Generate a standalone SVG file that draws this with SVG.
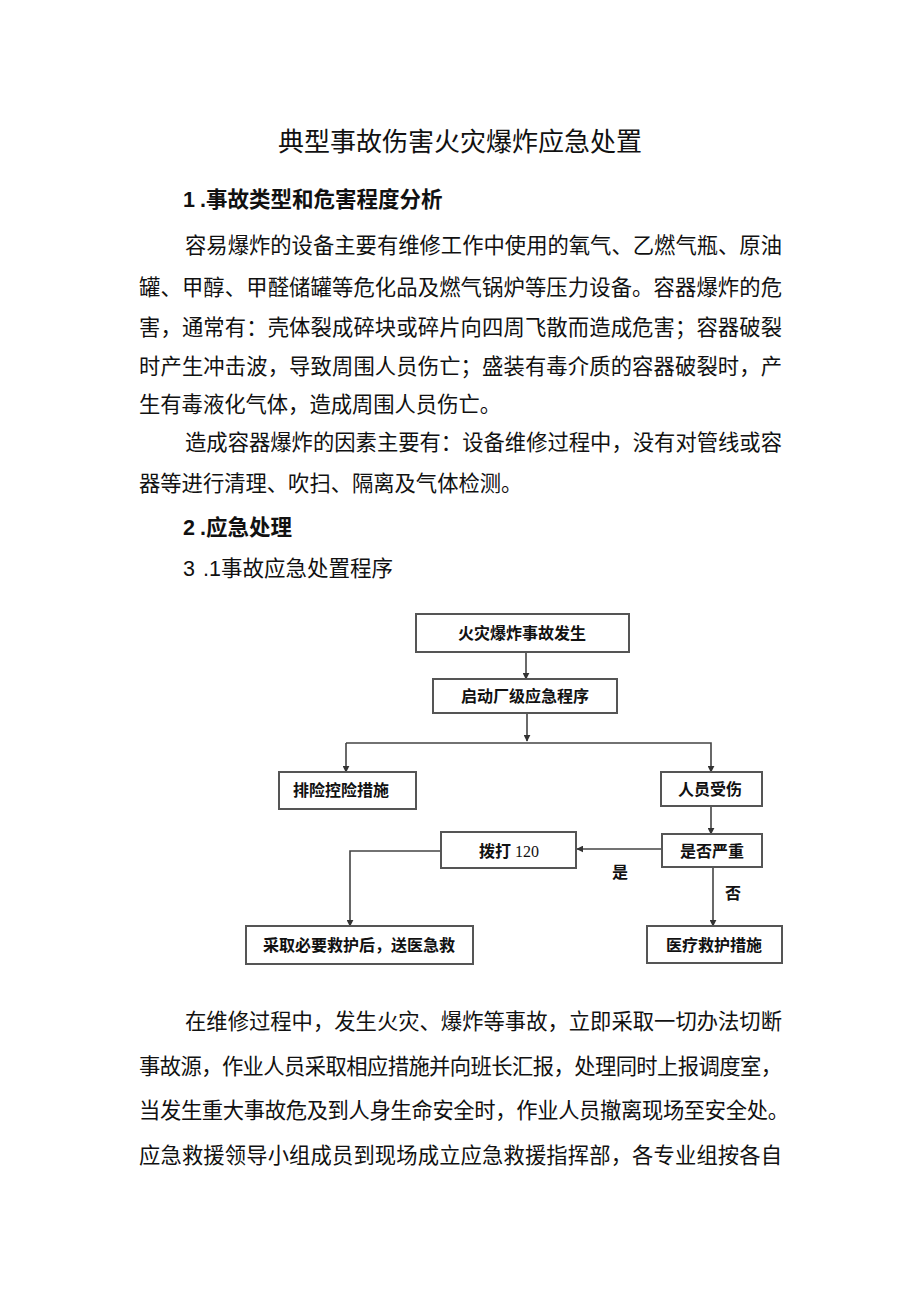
<svg xmlns="http://www.w3.org/2000/svg" width="920" height="1301" viewBox="0 0 920 1301">
<style>
.title{font-family:"Noto Sans CJK SC","Liberation Sans",sans-serif;font-size:26px;fill:#111;}
.h{font-family:"Liberation Sans","Noto Sans CJK SC",sans-serif;font-size:21.5px;fill:#111;}
.hb{font-weight:bold;}
.p{font-family:"Liberation Serif","Noto Sans CJK SC",serif;font-size:21.3px;fill:#111;}
.box{fill:#fff;stroke:#555;stroke-width:2;}
.bt{font-family:"Liberation Serif","Noto Sans CJK SC",sans-serif;font-size:16px;font-weight:bold;fill:#111;text-anchor:middle;}
.ln{fill:none;stroke:#444;stroke-width:1.6;}
</style>
<defs>
<marker id="ah" viewBox="0 0 10 10" refX="9" refY="5" markerWidth="7" markerHeight="7" markerUnits="userSpaceOnUse" orient="auto">
<path d="M0,0 L10,5 L0,10 z" fill="#333"/>
</marker>
</defs>
<rect width="920" height="1301" fill="#fff"/>

<g id="text">
<text class="title" x="460" y="151" text-anchor="middle">典型事故伤害火灾爆炸应急处置</text>
<text class="h hb" y="207"><tspan x="183">1</tspan><tspan x="200">.事故类型和危害程度分析</tspan></text>
<text class="p" x="185" y="253" textLength="597" lengthAdjust="spacing">容易爆炸的设备主要有维修工作中使用的氧气、乙燃气瓶、原油</text>
<text class="p" x="139" y="295" textLength="643" lengthAdjust="spacing">罐、甲醇、甲醛储罐等危化品及燃气锅炉等压力设备。容器爆炸的危</text>
<text class="p" x="139" y="335" textLength="643" lengthAdjust="spacing">害，通常有：壳体裂成碎块或碎片向四周飞散而造成危害；容器破裂</text>
<text class="p" x="139" y="374" textLength="643" lengthAdjust="spacing">时产生冲击波，导致周围人员伤亡；盛装有毒介质的容器破裂时，产</text>
<text class="p" x="139" y="412">生有毒液化气体，造成周围人员伤亡。</text>
<text class="p" x="185" y="450" textLength="597" lengthAdjust="spacing">造成容器爆炸的因素主要有：设备维修过程中，没有对管线或容</text>
<text class="p" x="139" y="491">器等进行清理、吹扫、隔离及气体检测。</text>
<text class="h hb" y="535"><tspan x="183">2</tspan><tspan x="200">.应急处理</tspan></text>
<text class="h" y="576"><tspan x="183">3</tspan><tspan x="203">.1事故应急处置程序</tspan></text>
<text class="p" x="185" y="1029" textLength="597" lengthAdjust="spacing">在维修过程中，发生火灾、爆炸等事故，立即采取一切办法切断</text>
<text class="p" x="139" y="1074" textLength="643" lengthAdjust="spacing">事故源，作业人员采取相应措施并向班长汇报，处理同时上报调度室，</text>
<text class="p" x="139" y="1118" textLength="650" lengthAdjust="spacing">当发生重大事故危及到人身生命安全时，作业人员撤离现场至安全处。</text>
<text class="p" x="139" y="1163" textLength="643" lengthAdjust="spacing">应急救援领导小组成员到现场成立应急救援指挥部，各专业组按各自</text>
</g>

<g id="connectors">
<line class="ln" x1="526" y1="652" x2="526" y2="679" marker-end="url(#ah)"/>
<line class="ln" x1="527" y1="713" x2="527" y2="741" marker-end="url(#ah)"/>
<polyline class="ln" points="346,743 711,743 711,772" marker-end="url(#ah)"/>
<line class="ln" x1="346" y1="743" x2="346" y2="772" marker-end="url(#ah)"/>
<line class="ln" x1="711" y1="806" x2="711" y2="834" marker-end="url(#ah)"/>
<line class="ln" x1="662" y1="849" x2="577" y2="849" marker-end="url(#ah)"/>
<line class="ln" x1="713" y1="867" x2="713" y2="926" marker-end="url(#ah)"/>
<polyline class="ln" points="441,851 350,851 350,926" marker-end="url(#ah)"/>
<text class="bt" x="620" y="878">是</text>
<text class="bt" x="733" y="899">否</text>
</g>

<g id="n1"><rect class="box" x="416" y="614" width="213" height="38"/><text class="bt" x="522" y="639">火灾爆炸事故发生</text></g>
<g id="n2"><rect class="box" x="433" y="679" width="184" height="34"/><text class="bt" x="525" y="702">启动厂级应急程序</text></g>
<g id="n3"><rect class="box" x="279" y="772" width="137" height="37"/><text class="bt" x="341" y="796">排险控险措施</text></g>
<g id="n4"><rect class="box" x="661" y="772" width="101" height="34"/><text class="bt" x="710" y="795">人员受伤</text></g>
<g id="n5"><rect class="box" x="662" y="834" width="100" height="33"/><text class="bt" x="712" y="857">是否严重</text></g>
<g id="n6"><rect class="box" x="441" y="832" width="135" height="36"/><text class="bt" x="509" y="857">拨打 <tspan font-weight="normal">120</tspan></text></g>
<g id="n7"><rect class="box" x="246" y="926" width="227" height="38"/><text class="bt" x="359" y="951">采取必要救护后，送医急救</text></g>
<g id="n8"><rect class="box" x="647" y="926" width="135" height="37"/><text class="bt" x="714" y="951">医疗救护措施</text></g>
</svg>
